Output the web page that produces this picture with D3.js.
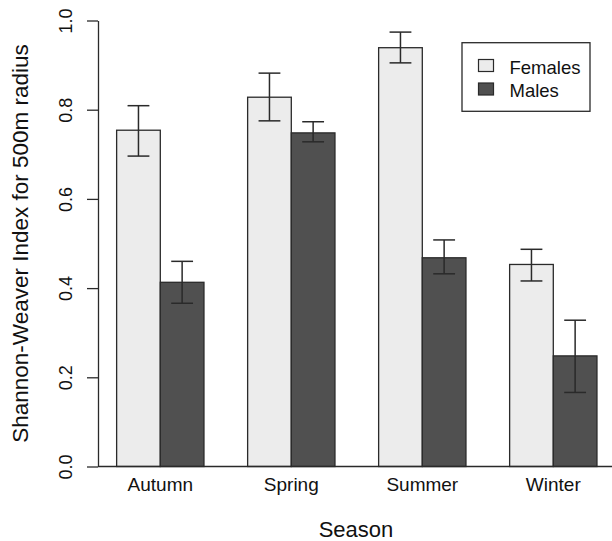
<!DOCTYPE html>
<html>
<head>
<meta charset="utf-8">
<script src="https://cdn.jsdelivr.net/npm/d3@7"></script>
<style>
  body { margin: 0; background: #fff; }
  svg { display: block; font-family: "Liberation Sans", Arial, sans-serif; }
</style>
</head>
<body>
<div id="chart"></div>
<script>
// seasons and the two groups
var seasons = ["Autumn", "Spring", "Summer", "Winter"];
var groups = ["Females", "Males"];

// mean index per season
var femaleMeans = [0.754, 0.828, 0.939, 0.453];
var maleMeans   = [0.413, 0.748, 0.468, 0.248];

// error bar ends
var femaleLow  = [0.696, 0.775, 0.905, 0.416];
var femaleHigh = [0.809, 0.882, 0.974, 0.487];
var maleLow    = [0.366, 0.728, 0.432, 0.166];
var maleHigh   = [0.460, 0.773, 0.508, 0.328];

var yTicks = [0, 0.2, 0.4, 0.6, 0.8, 1.0];

var width = 612, height = 541;
var colors = { "Females": "#ececec", "Males": "#505050" };
var ink = "#111";

// build rows for drawing
var rows = [];
seasons.forEach(function(s, i) {
    rows.push({ season: s, group: "Females", value: femaleMeans[i], lo: femaleLow[i], hi: femaleHigh[i] });
    rows.push({ season: s, group: "Males", value: maleMeans[i], lo: maleLow[i], hi: maleHigh[i] });
});

var svg = d3.select("#chart").append("svg")
    .attr("width", width)
    .attr("height", height);

var x = d3.scaleBand()
    .domain(seasons)
    .range([94.8, 618.8])
    .paddingInner(1 / 3)
    .paddingOuter(1 / 6);

var xInner = d3.scaleBand()
    .domain(groups)
    .range([0, x.bandwidth()]);

var y = d3.scaleLinear()
    .domain([0, 1])
    .range([466.5, 20.5]);

// bars
svg.selectAll("rect.bar")
    .data(rows)
    .enter().append("rect")
    .attr("class", "bar")
    .attr("x", function(d) { return x(d.season) + xInner(d.group); })
    .attr("width", xInner.bandwidth())
    .attr("y", function(d) { return y(d.value); })
    .attr("height", function(d) { return y(0) - y(d.value); })
    .attr("fill", function(d) { return colors[d.group]; })
    .attr("stroke", "#2a2a2a")
    .attr("stroke-width", 1.3);

// error bars
var err = svg.selectAll("g.err")
    .data(rows)
    .enter().append("g")
    .attr("class", "err")
    .attr("stroke", "#2a2a2a")
    .attr("stroke-width", 1.5);

function cx(d) { return x(d.season) + xInner(d.group) + xInner.bandwidth() / 2; }
var capHalf = xInner.bandwidth() / 4;

err.append("line")
    .attr("x1", cx).attr("x2", cx)
    .attr("y1", function(d) { return y(d.lo); })
    .attr("y2", function(d) { return y(d.hi); });
err.append("line")
    .attr("x1", function(d) { return cx(d) - capHalf; })
    .attr("x2", function(d) { return cx(d) + capHalf; })
    .attr("y1", function(d) { return y(d.hi); })
    .attr("y2", function(d) { return y(d.hi); });
err.append("line")
    .attr("x1", function(d) { return cx(d) - capHalf; })
    .attr("x2", function(d) { return cx(d) + capHalf; })
    .attr("y1", function(d) { return y(d.lo); })
    .attr("y2", function(d) { return y(d.lo); });

// baseline across the plot
svg.append("line")
    .attr("x1", 98).attr("x2", width)
    .attr("y1", y(0)).attr("y2", y(0))
    .attr("stroke", "#2a2a2a")
    .attr("stroke-width", 1.3);

// y axis
var yAxis = svg.append("g")
    .attr("transform", "translate(98,0)")
    .call(d3.axisLeft(y).tickValues(yTicks).tickSize(11).tickSizeOuter(0).tickPadding(0)
        .tickFormat(d3.format(".1f")));
yAxis.select(".domain").attr("stroke", "#2a2a2a").attr("stroke-width", 1.3);
yAxis.selectAll(".tick line").attr("stroke", "#2a2a2a").attr("stroke-width", 1.3);
yAxis.selectAll(".tick text")
    .attr("x", 0).attr("dy", null)
    .attr("transform", "translate(-26,0) rotate(-90)")
    .attr("text-anchor", "middle")
    .attr("font-size", 18)
    .attr("fill", ink);

// x labels
svg.selectAll("text.xlab")
    .data(seasons)
    .enter().append("text")
    .attr("class", "xlab")
    .attr("x", function(d) { return x(d) + x.bandwidth() / 2; })
    .attr("y", 490.5)
    .attr("text-anchor", "middle")
    .attr("font-size", 19)
    .attr("fill", ink)
    .text(function(d) { return d; });

// axis titles
svg.append("text")
    .attr("x", 356).attr("y", 536.5)
    .attr("text-anchor", "middle")
    .attr("font-size", 22)
    .attr("fill", ink)
    .text("Season");

svg.append("text")
    .attr("transform", "translate(28," + ((y(0) + y(1)) / 2) + ") rotate(-90)")
    .attr("text-anchor", "middle")
    .attr("font-size", 22.5)
    .attr("fill", ink)
    .text("Shannon-Weaver Index for 500m radius");

// legend
var legend = svg.append("g");
legend.append("rect")
    .attr("x", 462).attr("y", 42.7)
    .attr("width", 128).attr("height", 68.6)
    .attr("fill", "#fff")
    .attr("stroke", "#2a2a2a")
    .attr("stroke-width", 1.3);

var item = legend.selectAll("g.item")
    .data(groups)
    .enter().append("g")
    .attr("class", "item")
    .attr("transform", function(d, i) { return "translate(0," + (i * 23.5) + ")"; });
item.append("rect")
    .attr("x", 478.5).attr("y", 59.5)
    .attr("width", 15).attr("height", 12)
    .attr("fill", function(d) { return colors[d]; })
    .attr("stroke", "#2a2a2a")
    .attr("stroke-width", 1.2);
item.append("text")
    .attr("x", 509.5).attr("y", 73.5)
    .attr("font-size", 18.5)
    .attr("fill", ink)
    .text(function(d) { return d; });
</script>
</body>
</html>
